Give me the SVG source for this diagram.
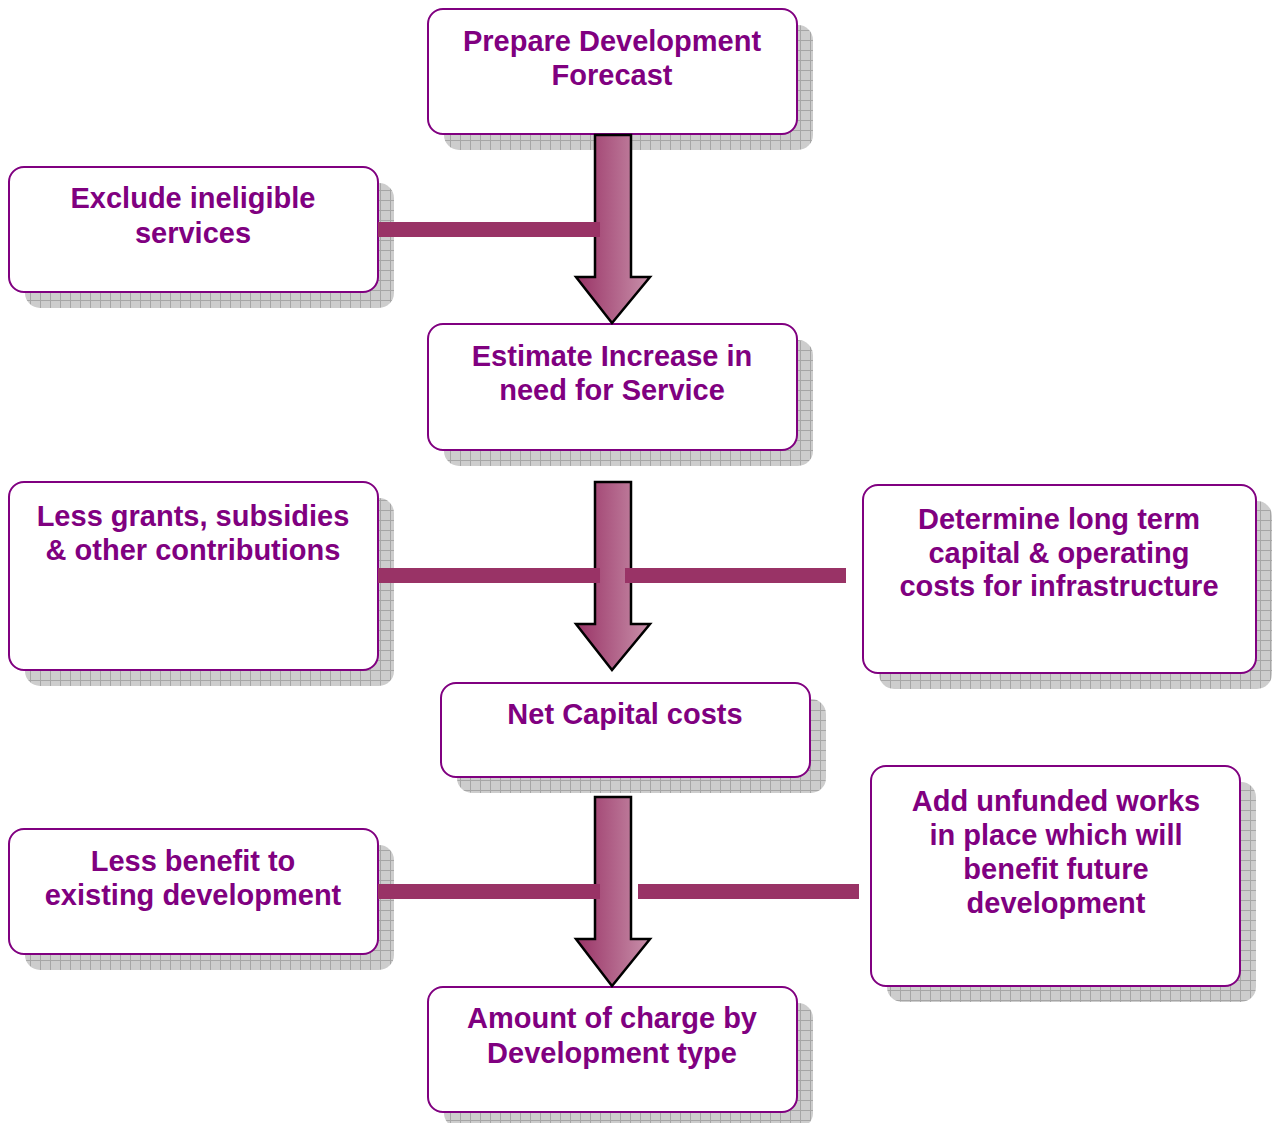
<svg xmlns="http://www.w3.org/2000/svg" width="1277" height="1123" viewBox="0 0 1277 1123">
  <style>
    .box { fill: #ffffff; stroke: #800080; stroke-width: 2; }
    .shadow { fill: url(#grid); }
    .lbl { font-family: "Liberation Sans", Arial, sans-serif; font-weight: bold; font-size: 29px; fill: #800080; text-anchor: middle; }
    .bar { fill: #993366; }
    .arrow { fill: url(#arrowGrad); stroke: #000000; stroke-width: 2.5; stroke-linejoin: miter; }
  </style>
  <defs>
    <pattern id="grid" width="10" height="10" patternUnits="userSpaceOnUse">
      <rect width="10" height="10" fill="#cdcdcd"/>
      <path d="M0 0.5 H10 M0.5 0 V10" stroke="#a6a6a6" stroke-width="1"/>
    </pattern>
    <linearGradient id="arrowGrad" x1="0" y1="0" x2="1" y2="0">
      <stop offset="0" stop-color="#993366"/>
      <stop offset="1" stop-color="#c890aa"/>
    </linearGradient>
  </defs>
  <rect width="1277" height="1123" fill="#ffffff"/>

  <g id="node-forecast">
    <rect class="shadow" x="444" y="25" width="369" height="125" rx="15"/>
    <rect class="box" x="428" y="9" width="369" height="125" rx="15"/>
    <text class="lbl" x="612" y="51">Prepare Development</text>
    <text class="lbl" x="612" y="85">Forecast</text>
  </g>

  <g id="node-exclude">
    <rect class="shadow" x="25" y="183" width="369" height="125" rx="15"/>
    <rect class="box" x="9" y="167" width="369" height="125" rx="15"/>
    <text class="lbl" x="193" y="208">Exclude ineligible</text>
    <text class="lbl" x="193" y="243">services</text>
  </g>

  <g id="node-estimate">
    <rect class="shadow" x="444" y="340" width="369" height="126" rx="15"/>
    <rect class="box" x="428" y="324" width="369" height="126" rx="15"/>
    <text class="lbl" x="612" y="366">Estimate Increase in</text>
    <text class="lbl" x="612" y="400">need for Service</text>
  </g>

  <g id="node-grants">
    <rect class="shadow" x="25" y="498" width="369" height="188" rx="15"/>
    <rect class="box" x="9" y="482" width="369" height="188" rx="15"/>
    <text class="lbl" x="193" y="526">Less grants, subsidies</text>
    <text class="lbl" x="193" y="560">&amp; other contributions</text>
  </g>

  <g id="node-determine">
    <rect class="shadow" x="879" y="501" width="393" height="188" rx="15"/>
    <rect class="box" x="863" y="485" width="393" height="188" rx="15"/>
    <text class="lbl" x="1059" y="529">Determine long term</text>
    <text class="lbl" x="1059" y="563">capital &amp; operating</text>
    <text class="lbl" x="1059" y="596">costs for infrastructure</text>
  </g>

  <g id="node-net">
    <rect class="shadow" x="457" y="699" width="369" height="94" rx="15"/>
    <rect class="box" x="441" y="683" width="369" height="94" rx="15"/>
    <text class="lbl" x="625" y="724">Net Capital costs</text>
  </g>

  <g id="node-benefit">
    <rect class="shadow" x="25" y="845" width="369" height="125" rx="15"/>
    <rect class="box" x="9" y="829" width="369" height="125" rx="15"/>
    <text class="lbl" x="193" y="871">Less benefit to</text>
    <text class="lbl" x="193" y="905">existing development</text>
  </g>

  <g id="node-unfunded">
    <rect class="shadow" x="887" y="782" width="369" height="220" rx="15"/>
    <rect class="box" x="871" y="766" width="369" height="220" rx="15"/>
    <text class="lbl" x="1056" y="811">Add unfunded works</text>
    <text class="lbl" x="1056" y="845">in place which will</text>
    <text class="lbl" x="1056" y="879">benefit future</text>
    <text class="lbl" x="1056" y="913">development</text>
  </g>

  <g id="node-charge">
    <rect class="shadow" x="444" y="1003" width="369" height="125" rx="15"/>
    <rect class="box" x="428" y="987" width="369" height="125" rx="15"/>
    <text class="lbl" x="612" y="1028">Amount of charge by</text>
    <text class="lbl" x="612" y="1063">Development type</text>
  </g>

  <g id="connectors">
    <!-- block arrows down the main column -->
    <path class="arrow" d="M595 135 H631 V277 H650 L612 323 L576 277 H595 Z"/>
    <path class="arrow" d="M595 482 H631 V624 H650 L612 670 L576 624 H595 Z"/>
    <path class="arrow" d="M595 797 H631 V939 H650 L612 986 L576 939 H595 Z"/>
    <!-- side feeds into the arrows -->
    <rect class="bar" x="378" y="222" width="222" height="15"/>
    <rect class="bar" x="378" y="568" width="222" height="15"/>
    <rect class="bar" x="625" y="568" width="221" height="15"/>
    <rect class="bar" x="378" y="884" width="222" height="15"/>
    <rect class="bar" x="638" y="884" width="221" height="15"/>
  </g>
</svg>
